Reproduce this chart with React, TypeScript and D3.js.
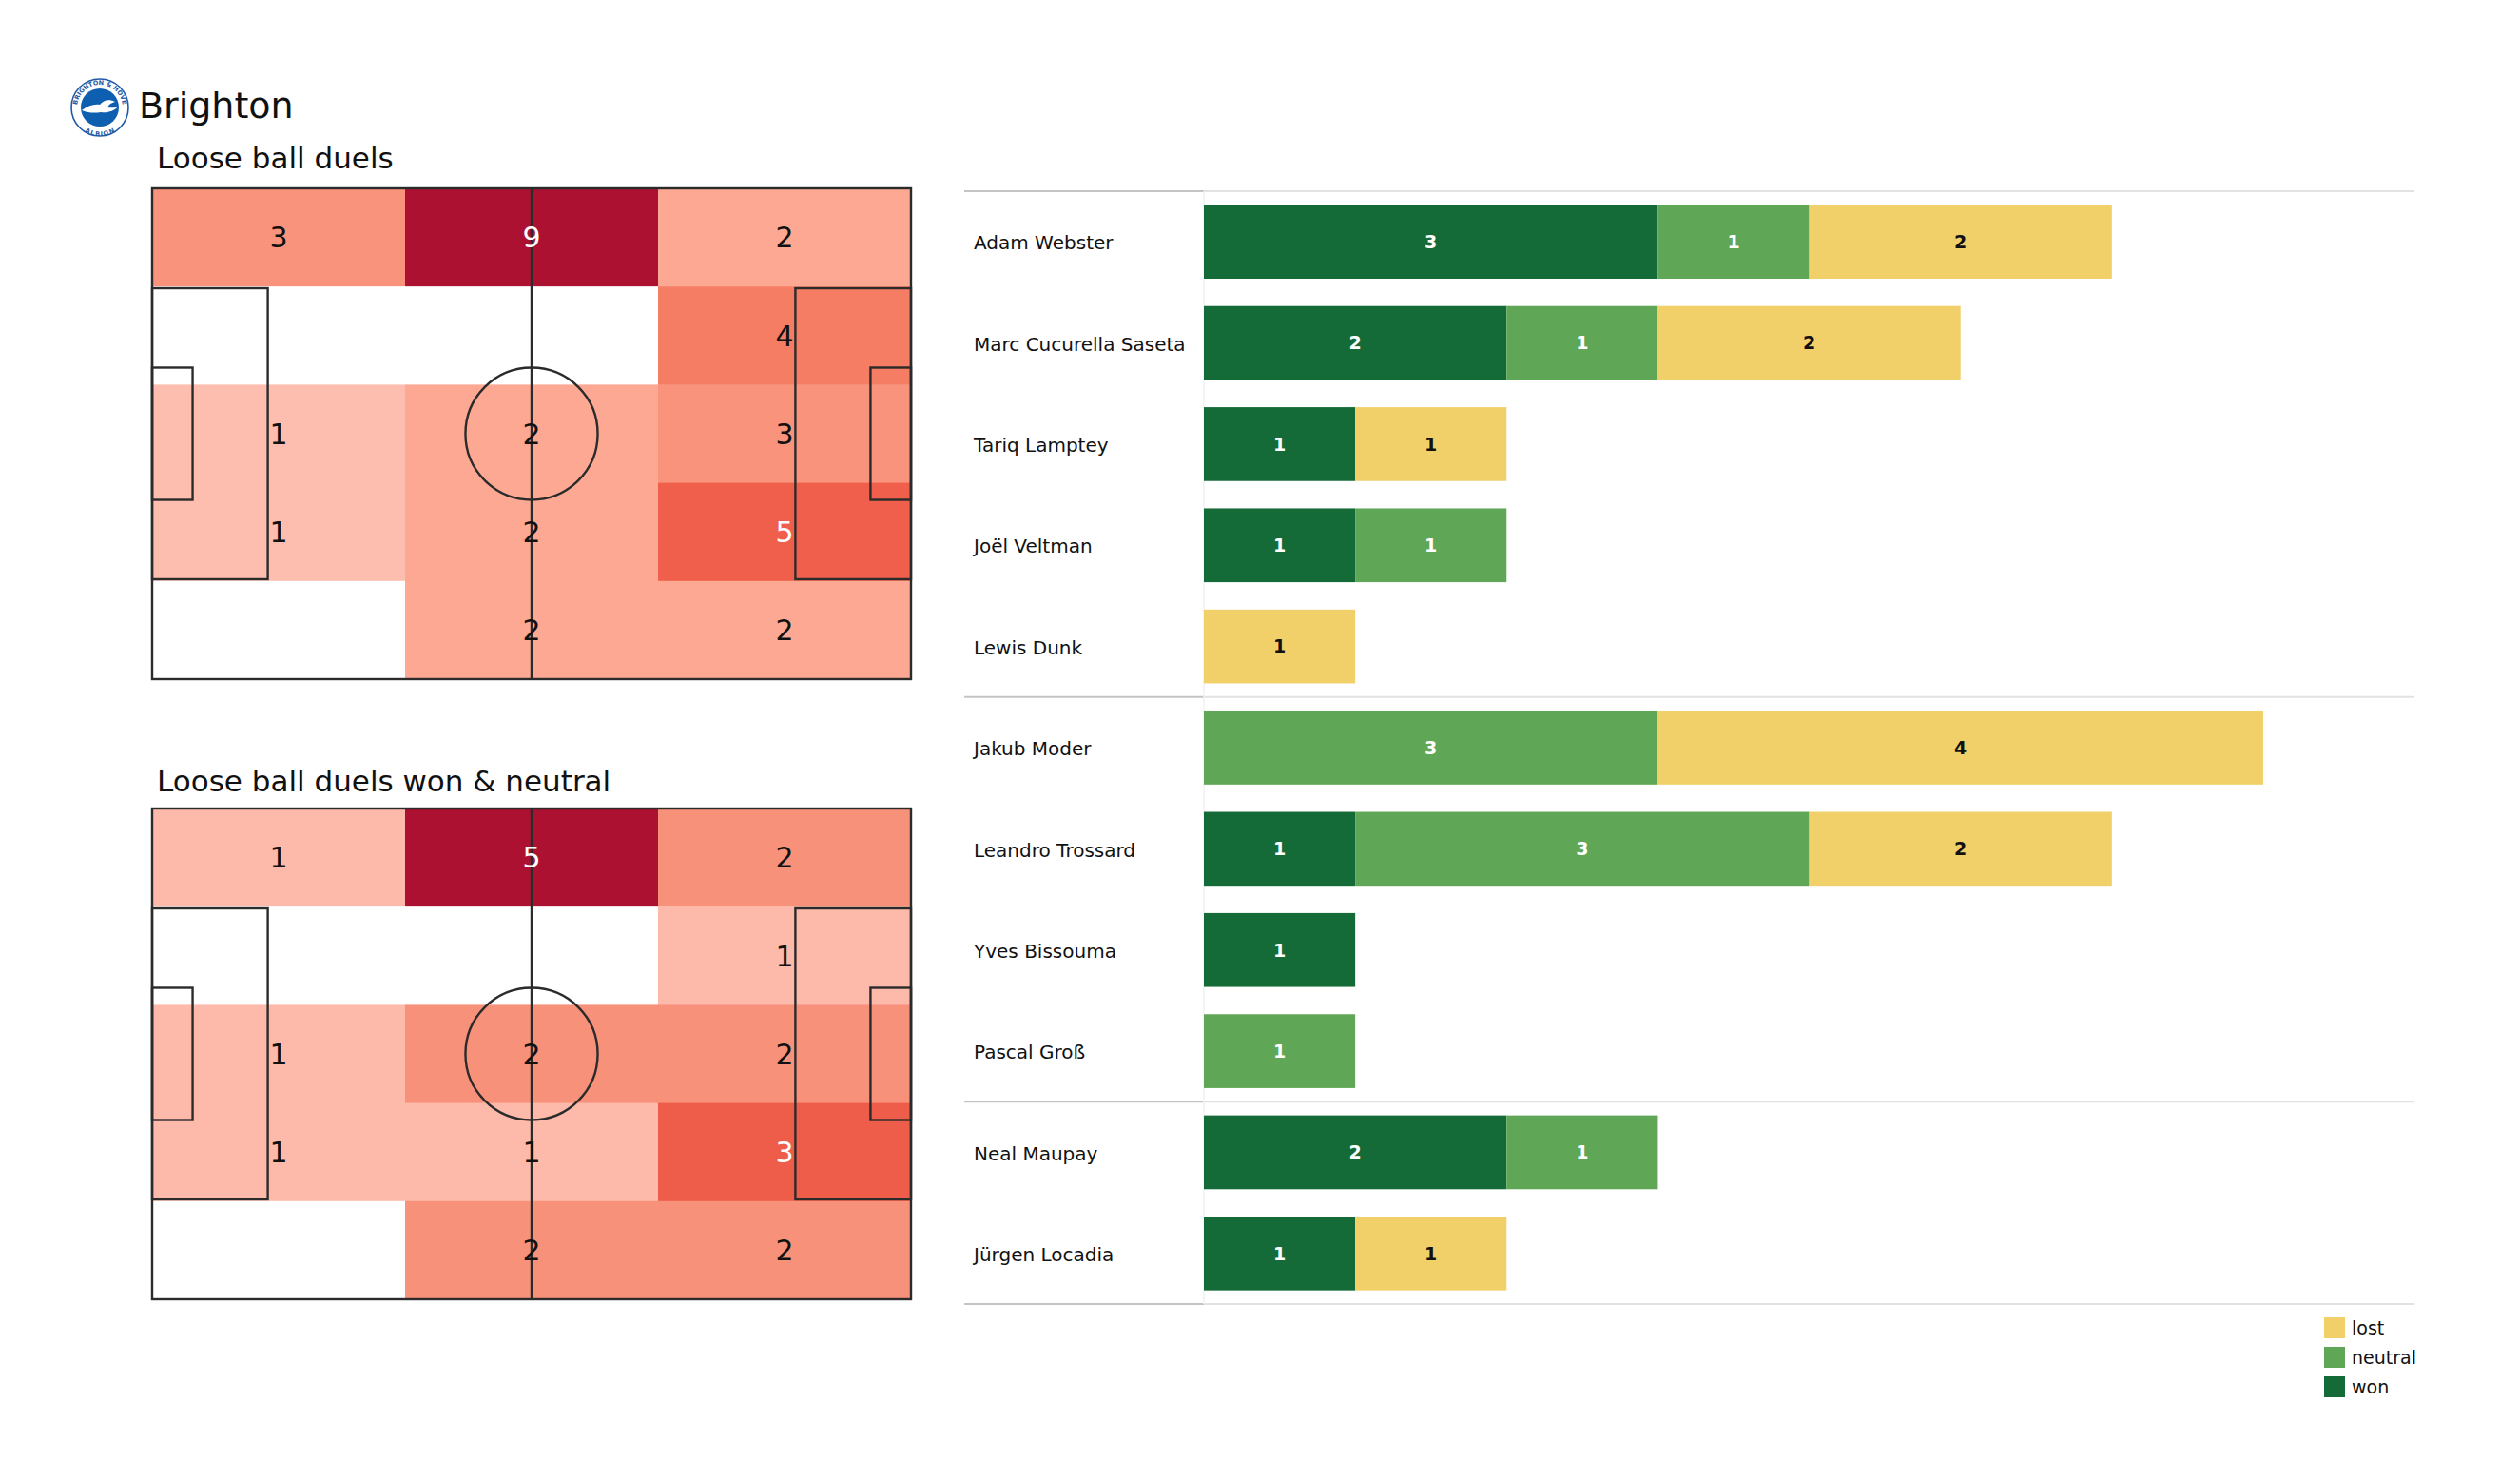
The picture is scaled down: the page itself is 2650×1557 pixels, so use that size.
import React from "react";
import * as d3 from "d3";

// ---------- data ----------
const TEAM = "Brighton";
const TITLE_ALL = "Loose ball duels";
const TITLE_WON = "Loose ball duels won & neutral";

// heat grids: 5 rows (top→bottom) x 3 columns (left→right)
const HEAT_ALL = [
  [3, 9, 2],
  [0, 0, 4],
  [1, 2, 3],
  [1, 2, 5],
  [0, 2, 2],
];
const HEAT_WON = [
  [1, 5, 2],
  [0, 0, 1],
  [1, 2, 2],
  [1, 1, 3],
  [0, 2, 2],
];

const PLAYERS = [
  "Adam Webster",
  "Marc Cucurella Saseta",
  "Tariq Lamptey",
  "Joël Veltman",
  "Lewis Dunk",
  "Jakub Moder",
  "Leandro Trossard",
  "Yves Bissouma",
  "Pascal Groß",
  "Neal Maupay",
  "Jürgen Locadia",
];
const WON = [3, 2, 1, 1, 0, 0, 1, 1, 0, 2, 1];
const NEUTRAL = [1, 1, 0, 1, 0, 3, 3, 0, 1, 1, 0];
const LOST = [2, 2, 1, 0, 1, 4, 2, 0, 0, 0, 1];
const GROUP_SIZES = [5, 4, 2];

const SERIES = ["won", "neutral", "lost"];
const LEGEND_ORDER = ["lost", "neutral", "won"];

// ---------- style ----------
const COLORS: Record<string, string> = { won: "#156b37", neutral: "#60a657", lost: "#f1d06a" };
const LABEL_COLORS: Record<string, string> = { won: "#ffffff", neutral: "#ffffff", lost: "#111111" };
const HEAT_STOPS = [0, 0.1, 0.2, 0.222, 0.333, 0.4, 0.444, 0.556, 0.6, 1];
const HEAT_COLS = [
  "#fee6dd",
  "#fdbeb0",
  "#fdbaab",
  "#fca892",
  "#f9937b",
  "#f8917a",
  "#f47d64",
  "#ef5f4b",
  "#ee5d49",
  "#ad1132",
];
const FONT = "DejaVu Sans, Verdana, sans-serif";
const LINE = "#2b2b2b";

const W = 2650;
const H = 1557;

// pitch geometry (metres)
const PL = 105;
const PW = 68;

function Pitch({ top, titleY, grid, title }: { top: number; titleY: number; grid: number[][]; title: string }) {
  const x = d3.scaleLinear().domain([0, PL]).range([160, 958]);
  const y = d3.scaleLinear().domain([0, PW]).range([top, top + 516]);
  const nCols = grid[0].length;
  const nRows = grid.length;
  const xb = d3.range(nCols + 1).map((i) => (i * PL) / nCols);
  const yb = d3.range(nRows + 1).map((i) => (i * PW) / nRows);
  const max = d3.max(grid.flat()) || 1;
  const color = d3.scaleLinear<string>().domain(HEAT_STOPS).range(HEAT_COLS).interpolate(d3.interpolateRgb);

  const boxW = 40.32;
  const sixW = 18.32;
  const boxD = 16.0;
  const sixD = 5.6;
  const r = 9.15;

  return (
    <g>
      <text x={165} y={titleY} fontSize={31} fontFamily={FONT} fill="#111">
        {title}
      </text>
      {grid.map((row, ri) =>
        row.map((v, ci) => (
          <rect
            key={`c${ri}-${ci}`}
            x={x(xb[ci])}
            y={y(yb[ri])}
            width={x(xb[ci + 1]) - x(xb[ci]) + 0.5}
            height={y(yb[ri + 1]) - y(yb[ri]) + 0.5}
            fill={v === 0 ? "#ffffff" : color(v / max)}
          />
        ))
      )}
      <g fill="none" stroke={LINE} strokeWidth={2.4}>
        <rect x={x(0)} y={y(0)} width={x(PL) - x(0)} height={y(PW) - y(0)} />
        <line x1={x(PL / 2)} x2={x(PL / 2)} y1={y(0)} y2={y(PW)} />
        <ellipse cx={x(PL / 2)} cy={y(PW / 2)} rx={x(r) - x(0)} ry={y(r) - y(0)} />
        <rect x={x(0)} y={y((PW - boxW) / 2)} width={x(boxD) - x(0)} height={y(boxW) - y(0)} />
        <rect x={x(0)} y={y((PW - sixW) / 2)} width={x(sixD) - x(0)} height={y(sixW) - y(0)} />
        <rect x={x(PL - boxD)} y={y((PW - boxW) / 2)} width={x(boxD) - x(0)} height={y(boxW) - y(0)} />
        <rect x={x(PL - sixD)} y={y((PW - sixW) / 2)} width={x(sixD) - x(0)} height={y(sixW) - y(0)} />
      </g>
      {grid.map((row, ri) =>
        row.map((v, ci) =>
          v === 0 ? null : (
            <text
              key={`t${ri}-${ci}`}
              x={(x(xb[ci]) + x(xb[ci + 1])) / 2}
              y={(y(yb[ri]) + y(yb[ri + 1])) / 2}
              dy="0.36em"
              textAnchor="middle"
              fontSize={30}
              fontFamily={FONT}
              fill={v / max > 0.5 ? "#ffffff" : "#111111"}
            >
              {v}
            </text>
          )
        )
      )}
    </g>
  );
}

function Logo({ cx, cy }: { cx: number; cy: number }) {
  return (
    <g transform={`translate(${cx},${cy})`}>
      <defs>
        <path id="ringTop" d="M -24 0 A 24 24 0 0 1 24 0" />
        <path id="ringBot" d="M -24 0 A 24 24 0 0 0 24 0" />
      </defs>
      <circle r={30} fill="#ffffff" stroke="#1f5aa6" strokeWidth={1.6} />
      <circle r={20} fill="#0f5fb0" />
      <text fontSize={6.5} fontFamily={FONT} fill="#1f5aa6" fontWeight="bold" textAnchor="middle">
        <textPath href="#ringTop" startOffset="50%">BRIGHTON &amp; HOVE</textPath>
      </text>
      <text fontSize={6.5} fontFamily={FONT} fill="#1f5aa6" fontWeight="bold" textAnchor="middle" dy="6">
        <textPath href="#ringBot" startOffset="50%">ALBION</textPath>
      </text>
      <path
        d="M -19 3 C -12 -2 -6 -4 0 -3 C 4 -8 10 -9 16 -6 C 12 -5 9 -3 8 0 C 12 0 16 1 19 -1 C 15 4 8 6 1 5 C -5 6 -12 6 -19 3 Z"
        fill="#ffffff"
      />
    </g>
  );
}

function Bars() {
  const x = d3.scaleLinear().domain([0, 7]).range([1266, 2380]);
  const yTop = 201;
  const yBot = 1371;
  const y = d3.scaleBand<string>().domain(PLAYERS).range([yTop, yBot]).paddingInner(0.27).paddingOuter(0.135);
  const values: Record<string, number[]> = { won: WON, neutral: NEUTRAL, lost: LOST };
  const table = PLAYERS.map((p, i) => ({ player: p, won: WON[i], neutral: NEUTRAL[i], lost: LOST[i] }));
  const stacked = d3.stack<any>().keys(SERIES)(table);

  const cum = [0, ...d3.cumsum(GROUP_SIZES)];
  const step = y.step();
  const dividers = cum.map((c) => yTop + c * step);

  return (
    <g>
      {dividers.map((dy, i) => (
        <g key={`d${i}`}>
          <line x1={1014} x2={1266} y1={dy} y2={dy} stroke="#c4c4c4" strokeWidth={2} />
          <line x1={1266} x2={2539} y1={dy} y2={dy} stroke="#e2e2e2" strokeWidth={2} />
        </g>
      ))}
      <line x1={1266} x2={1266} y1={yTop} y2={yBot} stroke="#f0f0f0" strokeWidth={1.5} />
      {stacked.map((s) =>
        s.map((d, i) => {
          const v = values[s.key][i];
          if (!v) return null;
          const bx = x(d[0]);
          const bw = x(d[1]) - x(d[0]);
          const by = y(PLAYERS[i]) as number;
          return (
            <g key={`${s.key}-${i}`}>
              <rect x={bx} y={by} width={bw} height={y.bandwidth()} fill={COLORS[s.key]} />
              <text
                x={bx + bw / 2}
                y={by + y.bandwidth() / 2}
                dy="0.36em"
                textAnchor="middle"
                fontSize={19}
                fontWeight="bold"
                fontFamily={FONT}
                fill={LABEL_COLORS[s.key]}
              >
                {v}
              </text>
            </g>
          );
        })
      )}
      {PLAYERS.map((p) => (
        <text
          key={p}
          x={1024}
          y={(y(p) as number) + y.bandwidth() / 2 + 1}
          dy="0.36em"
          fontSize={20}
          fontFamily={FONT}
          fill="#111"
        >
          {p}
        </text>
      ))}
      {LEGEND_ORDER.map((k, i) => (
        <g key={k} transform={`translate(2444,${1385 + i * 31})`}>
          <rect width={22} height={22} fill={COLORS[k]} />
          <text x={29} y={11} dy="0.36em" fontSize={19} fontFamily={FONT} fill="#111">
            {k}
          </text>
        </g>
      ))}
    </g>
  );
}

export default function App() {
  return (
    <svg
      width={W}
      height={H}
      viewBox={`0 0 ${W} ${H}`}
      style={{ position: "absolute", left: 0, top: 0, background: "#ffffff" }}
    >
      <rect width={W} height={H} fill="#ffffff" />
      <Logo cx={105} cy={113} />
      <text x={146} y={124} fontSize={38} fontFamily={FONT} fill="#111">
        {TEAM}
      </text>
      <Pitch top={198} titleY={177} grid={HEAT_ALL} title={TITLE_ALL} />
      <Pitch top={850} titleY={832} grid={HEAT_WON} title={TITLE_WON} />
      <Bars />
    </svg>
  );
}
